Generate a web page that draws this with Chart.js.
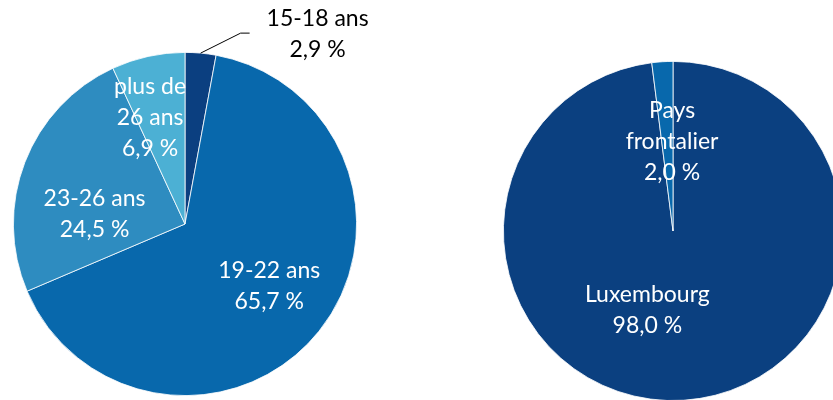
<!DOCTYPE html>
<html>
<head>
<meta charset="utf-8">
<script src="https://cdn.jsdelivr.net/npm/chart.js@4"></script>
<style>
  html, body { margin: 0; padding: 0; background: #fff; overflow: hidden; width: 833px; height: 400px; }
  canvas { position: absolute; }
  #ageChart { left: 0; top: 0; }
  #paysChart { left: 440px; top: 0; }
</style>
</head>
<body>
<canvas id="ageChart" width="420" height="400"></canvas>
<canvas id="paysChart" width="480" height="420"></canvas>
<script>
// Left pie: age groups
const ageLabels = [['15-18 ans'], ['19-22 ans'], ['23-26 ans'], ['plus de', '26 ans']];
const ageValues = [2.9, 65.7, 24.5, 6.9];
const ageColors = ['#0b3f80', '#0868ac', '#2e8cc0', '#4cb0d4'];

// Right pie: country of residence
const paysLabels = [['Luxembourg'], ['Pays', 'frontalier']];
const paysValues = [98.0, 2.0];
const paysColors = ['#0b4080', '#0868ac'];

const fmt = v => v.toFixed(1).replace('.', ',') + '\u00a0%';

// Draws the data labels; position given as fraction of radius + angle shift (deg)
const sliceLabels = {
    id: 'sliceLabels',
    afterDatasetsDraw(chart, args, opts) {
        const ctx = chart.ctx;
        const meta = chart.getDatasetMeta(0);
        const ds = chart.data.datasets[0];
        ctx.save();
        ctx.font = opts.font;
        ctx.textAlign = 'center';
        ctx.textBaseline = 'middle';
        meta.data.forEach((arc, i) => {
            const p = opts.place[i];
            const a = arc.getProps(['x', 'y', 'startAngle', 'endAngle', 'outerRadius'], true);
            const lines = chart.data.labels[i].concat([fmt(ds.data[i])]);
            let mid = (a.startAngle + a.endAngle) / 2;
            let cx, cy;
            if (p.outside) {
                const ex = a.x + Math.cos(mid) * a.outerRadius;
                const ey = a.y + Math.sin(mid) * a.outerRadius;
                const bx = ex + p.elbow[0], by = ey + p.elbow[1];
                const tx = bx + p.tail;
                ctx.strokeStyle = '#000';
                ctx.lineWidth = 1;
                ctx.beginPath();
                ctx.moveTo(ex, ey);
                ctx.lineTo(bx, by);
                ctx.lineTo(tx, by);
                ctx.stroke();
                cx = tx + p.text[0];
                cy = by + p.text[1];
                ctx.fillStyle = '#000';
            } else {
                mid += (p.shift || 0) * Math.PI / 180;
                cx = a.x + Math.cos(mid) * a.outerRadius * p.r;
                cy = a.y + Math.sin(mid) * a.outerRadius * p.r;
                ctx.fillStyle = '#fff';
            }
            const lh = opts.lineHeight;
            const top = cy - (lines.length - 1) * lh / 2;
            lines.forEach((t, k) => ctx.fillText(t, cx, top + k * lh));
        });
        ctx.restore();
    }
};

function makePie(id, labels, values, colors, padding, place) {
    return new Chart(document.getElementById(id), {
        type: 'pie',
        data: {
            labels: labels,
            datasets: [{
                data: values,
                backgroundColor: colors,
                borderColor: '#ffffff',
                borderWidth: 0.8
            }]
        },
        options: {
            responsive: false,
            animation: false,
            layout: { padding: padding },
            plugins: {
                legend: { display: false },
                tooltip: { enabled: false },
                sliceLabels: {
                    font: '23px Lato',
                    lineHeight: 31,
                    place: place
                }
            }
        },
        plugins: [sliceLabels]
    });
}

makePie('ageChart', ageLabels, ageValues, ageColors,
    { left: 13, right: 63, top: 52, bottom: 4 },
    [
        { outside: true, elbow: [40, -20], tail: 9, text: [68, 1] },
        { r: 0.61, shift: -2.3 },
        { r: 0.53, shift: -15 },
        { r: 0.655, shift: -5.7 }
    ]);

makePie('paysChart', paysLabels, paysValues, paysColors,
    { left: 63, right: 77, top: 61, bottom: 19 },
    [
        { r: 0.49, shift: 21.6 },
        { r: 0.53, shift: 3 }
    ]);
</script>
</body>
</html>
